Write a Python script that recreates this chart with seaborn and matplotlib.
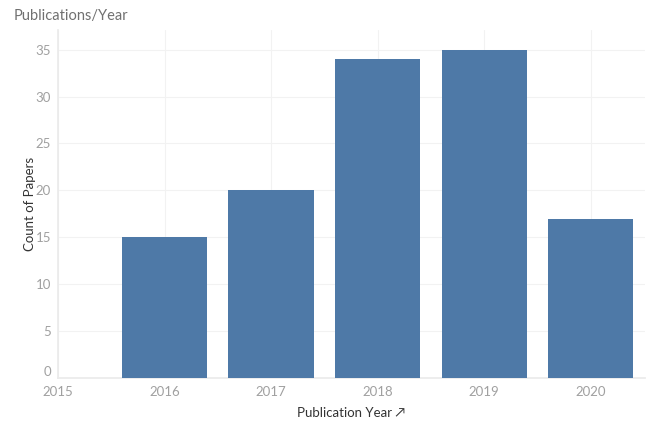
import matplotlib
matplotlib.use("Agg")
import matplotlib.pyplot as plt
import matplotlib.transforms as mtransforms
import seaborn as sns
import pandas as pd

years = [2015, 2016, 2017, 2018, 2019, 2020]
counts = [0, 15, 20, 34, 35, 17]
y_ticks = [0, 5, 10, 15, 20, 25, 30, 35]

sns.set_theme(style="white")
plt.rcParams['font.family'] = ['Lato', 'DejaVu Sans']

df = pd.DataFrame({"year": years, "count": counts})

fig = plt.figure(figsize=(6.5, 4.21), dpi=100)
ax = fig.add_axes([58/650, 43/421, (645-58)/650, (378-30)/421])

sns.barplot(data=df, x="year", y="count", native_scale=True, color="#4e79a7",
            saturation=1, width=0.8, ax=ax, edgecolor="none", zorder=3)

ax.set_xlim(2015, 2020.51)
ax.set_ylim(0, 37.1)
ax.set_yticks(y_ticks)
ax.set_xticks(years)
ax.set_xticklabels([str(y) for y in years])
ax.grid(True, color="#f2f2f2", linewidth=0.8, zorder=0)
for s in ["top", "right"]:
    ax.spines[s].set_visible(False)
ax.spines["left"].set_color("#ebebeb")
ax.spines["bottom"].set_color("#ebebeb")
ax.tick_params(axis="both", colors="#a0a0a0", labelsize=9.5, length=0, pad=6)
ax.tick_params(axis="y", pad=5)

# Lift the "0" label slightly like the reference
fig.canvas.draw()
ylabels = ax.get_yticklabels()
offset = mtransforms.ScaledTranslation(0, 7/100, fig.dpi_scale_trans)
ylabels[0].set_transform(ylabels[0].get_transform() + offset)

ax.set_xlabel("Publication Year \u2197", fontsize=9.5, color="#333333", labelpad=6)
ax.set_ylabel("Count of Papers", fontsize=9.5, color="#333333", labelpad=0)

fig.text(14/650, 1 - 16/421, "Publications/Year", fontsize=10.5, color="#707070",
         va="center", ha="left")

fig.savefig("out.png", dpi=100)
